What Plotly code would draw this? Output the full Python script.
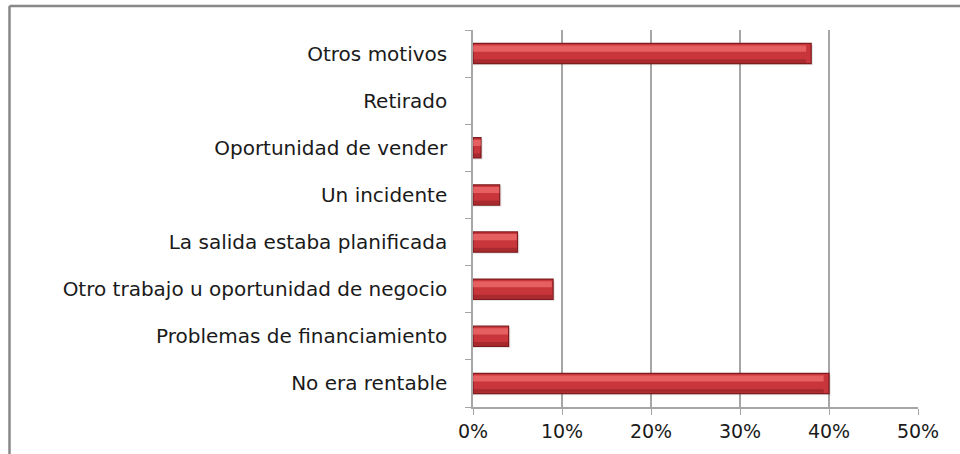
import plotly.graph_objects as go

categorias = ["No era rentable", "Problemas de financiamiento",
              "Otro trabajo u oportunidad de negocio", "La salida estaba planificada",
              "Un incidente", "Oportunidad de vender", "Retirado", "Otros motivos"]
porcentajes = [0.40, 0.04, 0.09, 0.05, 0.03, 0.009, 0.0, 0.38]
ticks_x = [0, 0.1, 0.2, 0.3, 0.4, 0.5]

borde = [1.2 if v > 0 else 0 for v in porcentajes]

fig = go.Figure()
# sombra
fig.add_trace(go.Bar(
    y=categorias, x=[v + 0.002 if v > 0 else 0 for v in porcentajes], orientation="h",
    marker=dict(color="rgba(0,0,0,0.10)", line=dict(width=0)),
    width=0.43, offset=-0.25,
))
fig.add_trace(go.Bar(
    y=categorias, x=porcentajes, orientation="h",
    marker=dict(color="#C8363B", line=dict(color="#7E1B1E", width=borde)),
    width=0.43, offset=-0.215,
))
# brillo superior
fig.add_trace(go.Bar(
    y=categorias, x=[v * 0.985 for v in porcentajes], orientation="h",
    marker=dict(color="rgba(255,130,130,0.55)", line=dict(width=0)),
    width=0.13, offset=0.04,
))
# zona oscura inferior
fig.add_trace(go.Bar(
    y=categorias, x=[v * 0.985 for v in porcentajes], orientation="h",
    marker=dict(color="rgba(110,20,22,0.35)", line=dict(width=0)),
    width=0.08, offset=-0.2,
))

fig.update_layout(
    width=960, height=454,
    margin=dict(l=473, r=42, t=30, b=47),
    paper_bgcolor="white", plot_bgcolor="white",
    showlegend=False, barmode="overlay",
    font=dict(family="DejaVu Sans, sans-serif", size=20, color="#1a1a1a"),
    shapes=[
        dict(type="line", xref="paper", yref="paper", x0=-1.0416, x1=1.2, y0=1.0637, y1=1.0637,
             line=dict(color="#888888", width=2.5)),
        dict(type="line", xref="paper", yref="paper", x0=-1.0416, x1=-1.0416, y0=1.0637, y1=-0.2,
             line=dict(color="#888888", width=2.5)),
    ],
)
fig.update_xaxes(range=[0, 0.5], tickvals=ticks_x, tickformat=".0%",
                 showgrid=True, gridcolor="#A6A6A6", gridwidth=1.5,
                 showline=True, linecolor="#A6A6A6", linewidth=1.5,
                 ticks="outside", ticklen=6, tickcolor="#A6A6A6",
                 zeroline=False, tickfont=dict(size=19))
fig.update_yaxes(categoryorder="array", categoryarray=categorias,
                 showline=True, linecolor="#A6A6A6", linewidth=1.5,
                 ticks="outside", ticklen=6, tickcolor="#A6A6A6",
                 tickson="boundaries", ticklabelstandoff=20, showgrid=False)

fig.write_html("out.html", config={"displayModeBar": False},
               post_script="document.body.style.margin='0';")
